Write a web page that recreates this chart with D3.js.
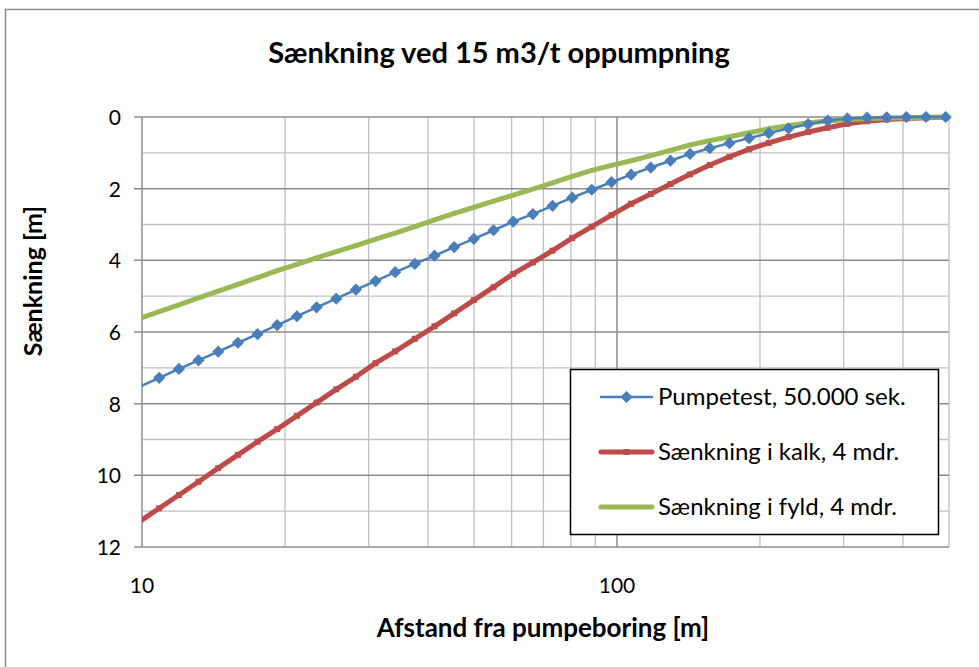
<!DOCTYPE html>
<html>
<head>
<meta charset="utf-8">
<script src="https://cdn.jsdelivr.net/npm/d3@7"></script>
<style>
  body { margin: 0; background: #fff; }
  text { font-family: Lato, "Open Sans", sans-serif; fill: #000; }
</style>
</head>
<body>
<svg id="chart" width="979" height="667"></svg>
<script>
// Sænkning vs. afstand, log x-akse

const distance = [9.88, 10.87, 11.96, 13.15, 14.47, 15.92, 17.51, 19.26, 21.19, 23.31,
  25.64, 28.20, 31.02, 34.12, 37.53, 41.29, 45.42, 49.96, 54.96, 60.45, 66.50,
  73.15, 80.46, 88.51, 97.36, 107.1, 117.8, 129.6, 142.5, 156.8, 172.5, 189.7,
  208.7, 229.6, 252.5, 277.8, 305.5, 336.1, 369.7, 406.7, 447.3, 492.1];

const pumpetest = [7.53, 7.28, 7.03, 6.79, 6.55, 6.30, 6.06, 5.81, 5.56, 5.31, 5.07,
  4.82, 4.58, 4.33, 4.10, 3.87, 3.63, 3.40, 3.16, 2.92, 2.71, 2.48, 2.25, 2.03,
  1.82, 1.61, 1.41, 1.22, 1.03, 0.87, 0.73, 0.59, 0.45, 0.32, 0.20, 0.10, 0.04,
  0.02, 0.01, 0.0, 0.0, 0.0];

const kalk = [11.29, 10.92, 10.55, 10.18, 9.80, 9.43, 9.06, 8.71, 8.34, 7.97, 7.60,
  7.25, 6.87, 6.54, 6.19, 5.84, 5.48, 5.11, 4.75, 4.38, 4.06, 3.73, 3.38, 3.06,
  2.74, 2.42, 2.15, 1.87, 1.60, 1.34, 1.11, 0.90, 0.72, 0.56, 0.42, 0.30, 0.19,
  0.12, 0.07, 0.04, 0.02, 0.01];

const fyld = [5.62, 5.43, 5.24, 5.05, 4.86, 4.67, 4.48, 4.29, 4.11, 3.93, 3.76,
  3.59, 3.41, 3.24, 3.06, 2.87, 2.69, 2.52, 2.35, 2.18, 2.01, 1.84, 1.66, 1.49,
  1.35, 1.22, 1.08, 0.93, 0.78, 0.66, 0.55, 0.44, 0.33, 0.24, 0.16, 0.11, 0.07,
  0.05, 0.03, 0.02, 0.01, 0.0];

const seriesNames = ["Pumpetest, 50.000 sek.", "Sænkning i kalk, 4 mdr.", "Sænkning i fyld, 4 mdr."];
const xTicks = [10, 100];
const xGrid = [20, 30, 40, 50, 60, 70, 80, 90, 200, 300, 400, 500];
const yTicks = [0, 2, 4, 6, 8, 10, 12];
const yMinor = [1, 3, 5, 7, 9, 11];

const svg = d3.select("#chart");
const mLeft = 142, mRight = 949, mTop = 117, mBottom = 547;

const x = d3.scaleLog().domain([10, 500]).range([mLeft, mRight]);
const y = d3.scaleLinear().domain([0, 12]).range([mTop, mBottom]);

// outer chart frame
svg.append("rect")
  .attr("x", 5.5).attr("y", 9.5)
  .attr("width", 1000).attr("height", 700)
  .attr("fill", "none").attr("stroke", "#8c8c8c").attr("stroke-width", 1.5);

svg.append("text")
  .attr("x", 499).attr("y", 63)
  .attr("text-anchor", "middle")
  .style("font-size", "29px").style("font-weight", "bold")
  .text("Sænkning ved 15 m3/t oppumpning");

// gridlines
const grid = svg.append("g");
grid.selectAll(".ym").data(yMinor).join("line")
  .attr("x1", mLeft).attr("x2", mRight)
  .attr("y1", d => y(d)).attr("y2", d => y(d))
  .attr("stroke", "#c0c0c0").attr("stroke-width", 1.3);
grid.selectAll(".xm").data(xGrid).join("line")
  .attr("x1", d => x(d)).attr("x2", d => x(d))
  .attr("y1", mTop).attr("y2", mBottom)
  .attr("stroke", "#c0c0c0").attr("stroke-width", 1.3);
grid.selectAll(".yM").data(yTicks).join("line")
  .attr("x1", mLeft - 8).attr("x2", mRight)
  .attr("y1", d => y(d)).attr("y2", d => y(d))
  .attr("stroke", "#8c8c8c").attr("stroke-width", 1.5);
grid.append("line")
  .attr("x1", x(100)).attr("x2", x(100))
  .attr("y1", mTop).attr("y2", mBottom)
  .attr("stroke", "#8c8c8c").attr("stroke-width", 1.5);
grid.append("line")
  .attr("x1", mLeft).attr("x2", mLeft)
  .attr("y1", mTop).attr("y2", mBottom)
  .attr("stroke", "#8c8c8c").attr("stroke-width", 1.5);

// axis labels
svg.append("g").selectAll("text").data(yTicks).join("text")
  .attr("x", 121).attr("y", d => y(d) + 8)
  .attr("text-anchor", "end")
  .style("font-size", "21px")
  .text(d => d);

svg.append("g").selectAll("text").data(xTicks).join("text")
  .attr("x", d => x(d)).attr("y", 593)
  .attr("text-anchor", "middle")
  .style("font-size", "21px")
  .text(d => d);

svg.append("text")
  .attr("x", 543).attr("y", 637)
  .attr("text-anchor", "middle")
  .style("font-size", "26px").style("font-weight", "bold")
  .text("Afstand fra pumpeboring [m]");

svg.append("text")
  .attr("transform", "translate(42,281) rotate(-90)")
  .attr("text-anchor", "middle")
  .style("font-size", "25px").style("font-weight", "bold")
  .text("Sænkning [m]");

// series
svg.append("clipPath").attr("id", "plot")
  .append("rect").attr("x", mLeft).attr("y", mTop - 10)
  .attr("width", mRight - mLeft + 6).attr("height", mBottom - mTop + 10);

const series = [
  { name: seriesNames[0], values: pumpetest, color: "#4a7ebb", width: 2.5, marker: "diamond", size: 95 },
  { name: seriesNames[1], values: kalk, color: "#be4b48", width: 5, marker: "square", size: 36 },
  { name: seriesNames[2], values: fyld, color: "#98b954", width: 5, marker: "square", size: 16 }
];

const line = d3.line()
  .x(d => x(d[0]))
  .y(d => y(d[1]));

const plot = svg.append("g").attr("clip-path", "url(#plot)");

function symbolFor(s) {
  return d3.symbol()
    .type(s.marker === "diamond" ? d3.symbolDiamond2 : d3.symbolSquare)
    .size(s.size);
}

// draw in reverse so blue sits on top
[series[1], series[2], series[0]].forEach(s => {
  const pts = distance.map((d, i) => [d, s.values[i]]);
  plot.append("path")
    .datum(pts)
    .attr("d", line)
    .attr("fill", "none")
    .attr("stroke", s.color)
    .attr("stroke-width", s.width)
    .attr("stroke-linejoin", "round");
  plot.selectAll(null)
    .data(pts.filter(p => p[0] >= 10))
    .join("path")
    .attr("transform", p => `translate(${x(p[0])},${y(p[1])})`)
    .attr("d", symbolFor(s))
    .attr("fill", s.color);
});

// legend
const lg = svg.append("g");
lg.append("rect")
  .attr("x", 570.5).attr("y", 369.5)
  .attr("width", 368).attr("height", 165)
  .attr("fill", "#fff").attr("stroke", "#000").attr("stroke-width", 1.5);

series.forEach((s, i) => {
  const yy = 397 + i * 55;
  lg.append("line")
    .attr("x1", 601).attr("x2", 652)
    .attr("y1", yy).attr("y2", yy)
    .attr("stroke", s.color).attr("stroke-width", s.width)
    .attr("stroke-linecap", "round");
  lg.append("path")
    .attr("transform", `translate(626.5,${yy})`)
    .attr("d", symbolFor(s))
    .attr("fill", s.color);
  lg.append("text")
    .attr("x", 658).attr("y", yy + 8)
    .style("font-size", "24px")
    .text(s.name);
});
</script>
</body>
</html>
